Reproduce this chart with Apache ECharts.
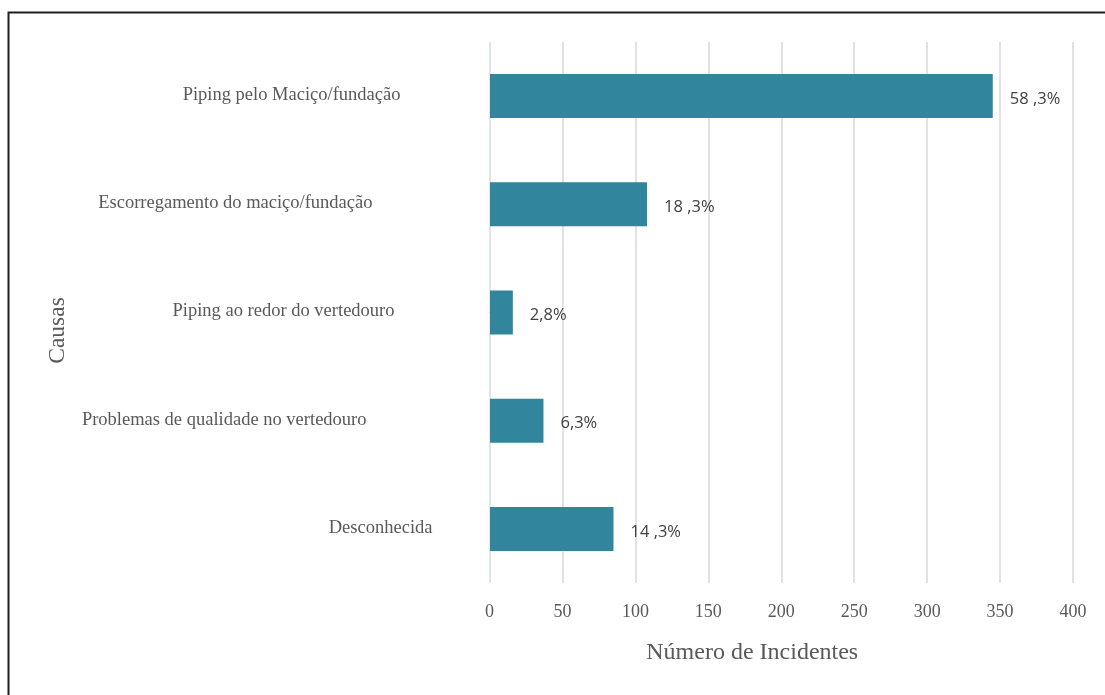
<!DOCTYPE html>
<html>
<head>
<meta charset="utf-8">
<script src="https://cdn.jsdelivr.net/npm/echarts@6/dist/echarts.min.js"></script>
<style>
  html, body { margin: 0; padding: 0; background: #fff; }
  #chart { width: 1105px; height: 695px; }
</style>
</head>
<body>
<div id="chart"></div>
<script>
// Causes of dam incidents (top to bottom as drawn)
const categories = [
  'Piping pelo Maciço/fundação',
  'Escorregamento do maciço/fundação',
  'Piping ao redor do vertedouro',
  'Problemas de qualidade no vertedouro',
  'Desconhecida'
];
const incidents = [345, 108, 16, 37, 85];
const shareLabels = ['58 ,3%', '18 ,3%', '2,8%', '6,3%', '14 ,3%'];
const xTicks = [0, 50, 100, 150, 200, 250, 300, 350, 400];

// extra right-side gap of each category label, in px
const labelGap = [32, 60, 38, 66, 0];

const chart = echarts.init(document.getElementById('chart'), null, { renderer: 'canvas' });

const rich = {};
categories.forEach((c, i) => {
  rich['c' + i] = {
    fontFamily: 'Liberation Serif',
    fontSize: 18.5,
    color: '#595959',
    padding: [0, labelGap[i], 2, 0]
  };
});

const option = {
  animation: false,
  backgroundColor: '#ffffff',
  graphic: [{
    type: 'rect',
    shape: { x: 8.5, y: 12.5, width: 1200, height: 800 },
    style: { fill: 'none', stroke: '#1f1f1f', lineWidth: 2 },
    silent: true
  }],
  grid: { left: 489.5, right: 32, top: 42, bottom: 112, containLabel: false },
  xAxis: {
    type: 'value',
    min: xTicks[0],
    max: xTicks[xTicks.length - 1],
    interval: 50,
    name: 'Número de Incidentes',
    nameLocation: 'middle',
    nameGap: 58,
    nameTextStyle: {
      fontFamily: 'Liberation Serif', fontSize: 24, color: '#595959',
      padding: [0, 58, 0, 0]
    },
    axisLine: { show: false },
    axisTick: { show: false },
    axisLabel: { fontFamily: 'Liberation Serif', fontSize: 18, color: '#595959', margin: 20 },
    splitLine: { show: true, lineStyle: { color: '#d9d9d9', width: 1.5 } }
  },
  yAxis: {
    type: 'category',
    data: categories,
    inverse: true,
    name: 'Causas',
    nameLocation: 'middle',
    nameGap: 420,
    nameRotate: 90,
    nameTextStyle: {
      fontFamily: 'Liberation Serif', fontSize: 23.5, color: '#595959',
      padding: [0, 36, 0, 0]
    },
    axisLine: { show: false },
    axisTick: { show: false },
    axisLabel: {
      margin: 57,
      formatter: (v, i) => '{c' + i + '|' + v + '}',
      rich: rich
    }
  },
  series: [{
    type: 'bar',
    data: incidents,
    barWidth: 44,
    itemStyle: { color: '#31859c' },
    label: {
      show: true,
      position: 'right',
      distance: 17,
      offset: [0, 3],
      formatter: p => shareLabels[p.dataIndex],
      fontFamily: 'Open Sans',
      fontSize: 16.5,
      color: '#404040'
    },
    markLine: {
      silent: true,
      symbol: 'none',
      label: { show: false },
      lineStyle: { color: '#dfe8ea', width: 1, type: 'solid' },
      data: [{ xAxis: 0 }]
    }
  }]
};

chart.setOption(option);
</script>
</body>
</html>
